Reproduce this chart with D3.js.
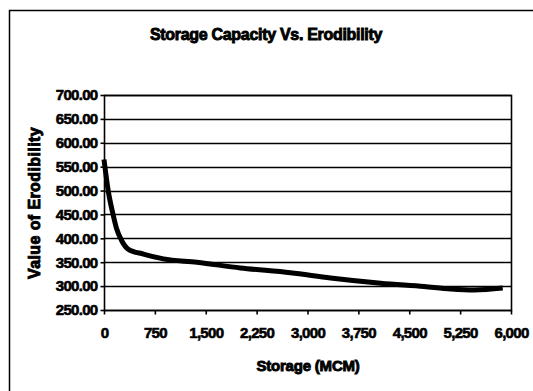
<!DOCTYPE html>
<html>
<head>
<meta charset="utf-8">
<script src="https://cdn.jsdelivr.net/npm/d3@7"></script>
<style>
  body { margin: 0; background: #fff; }
  text { font-family: "Liberation Sans", Arial, sans-serif; font-weight: bold; fill: #000; stroke: #000; }
</style>
</head>
<body>
<div id="chart"></div>
<script>
// storage (MCM) and erodibility
var storage = [0, 64, 137, 186, 261, 360, 581, 876, 1370, 2010, 2749, 3340, 4079, 4719, 5113, 5458, 5878];
var erodibility = [565, 498, 448, 420, 395, 377, 367, 357, 350, 338, 328, 317, 306, 299, 294, 292, 296];
var yTicks = [250, 300, 350, 400, 450, 500, 550, 600, 650, 700];
var xTicks = [0, 750, 1500, 2250, 3000, 3750, 4500, 5250, 6000];

var width = 533, height = 391;
var margin = { top: 95, right: 22, bottom: 81, left: 104 };

var data = storage.map(function (s, i) { return { s: s, v: erodibility[i] }; });

var svg = d3.select("#chart").append("svg")
  .attr("width", width)
  .attr("height", height);

// outer chart frame (only top and left survive in the scan)
svg.append("path")
  .attr("d", "M9.5," + (height) + "V10.5H" + width)
  .attr("fill", "none")
  .attr("stroke", "#000")
  .attr("stroke-width", 1.5);

var x = d3.scaleLinear()
  .domain([0, 6000])
  .range([margin.left, width - margin.right]);

var y = d3.scaleLinear()
  .domain([250, 700])
  .range([height - margin.bottom, margin.top]);

// horizontal gridlines
svg.append("g")
  .selectAll("line")
  .data(yTicks)
  .join("line")
  .attr("x1", margin.left)
  .attr("x2", width - margin.right)
  .attr("y1", (d) => Math.round(y(d)) + 0.5)
  .attr("y2", (d) => Math.round(y(d)) + 0.5)
  .attr("stroke", "#000")
  .attr("stroke-width", 1.3);

// plot border
svg.append("rect")
  .attr("x", margin.left + 0.5)
  .attr("y", margin.top + 0.5)
  .attr("width", width - margin.right - margin.left)
  .attr("height", height - margin.bottom - margin.top)
  .attr("fill", "none")
  .attr("stroke", "#000")
  .attr("stroke-width", 1.6);

var tickText = (sel) =>
  sel.style("font-size", "15px")
    .style("letter-spacing", "-0.7px")
    .style("font-family", "'Liberation Sans', Arial, sans-serif")
    .style("font-weight", "bold")
    .style("stroke", "#000")
    .style("stroke-width", "0.6px");

var yAxis = (g) =>
  g.attr("transform", `translate(${margin.left + 0.5},0)`)
    .call(d3.axisLeft(y).tickValues(yTicks).tickFormat(d3.format(".2f")).tickSize(4).tickPadding(3))
    .call((g) => g.select(".domain").remove())
    .call((g) => g.selectAll("line").attr("stroke-width", 1.6))
    .call((g) => g.selectAll("text").call(tickText));

var xAxis = (g) =>
  g.attr("transform", `translate(0,${height - margin.bottom + 0.5})`)
    .call(d3.axisBottom(x).tickValues(xTicks).tickFormat(d3.format(",")).tickSize(4).tickPadding(13))
    .call((g) => g.select(".domain").remove())
    .call((g) => g.selectAll("line").attr("stroke-width", 1.6))
    .call((g) => g.selectAll("text").call(tickText));

svg.append("g").call(yAxis);
svg.append("g").call(xAxis);

// the curve
var line = d3.line()
  .x((d) => x(d.s))
  .y((d) => y(d.v))
  .curve(d3.curveMonotoneX);

svg.append("path")
  .datum(data)
  .attr("fill", "none")
  .attr("stroke", "#000")
  .attr("stroke-width", 5)
  .attr("stroke-linejoin", "round")
  .attr("d", line);

// titles
svg.append("text")
  .attr("x", 266)
  .attr("y", 40)
  .attr("text-anchor", "middle")
  .style("font-size", "16px")
  .style("letter-spacing", "-0.3px")
  .style("stroke-width", "0.9px")
  .text("Storage Capacity Vs. Erodibility");

svg.append("text")
  .attr("x", 308)
  .attr("y", 371)
  .attr("text-anchor", "middle")
  .style("font-size", "15px")
  .style("letter-spacing", "-0.2px")
  .style("stroke-width", "0.9px")
  .text("Storage (MCM)");

svg.append("text")
  .attr("transform", "translate(40,203) rotate(-90)")
  .attr("text-anchor", "middle")
  .style("font-size", "16px")
  .style("letter-spacing", "0.4px")
  .style("stroke-width", "0.9px")
  .text("Value of Erodibility");
</script>
</body>
</html>
